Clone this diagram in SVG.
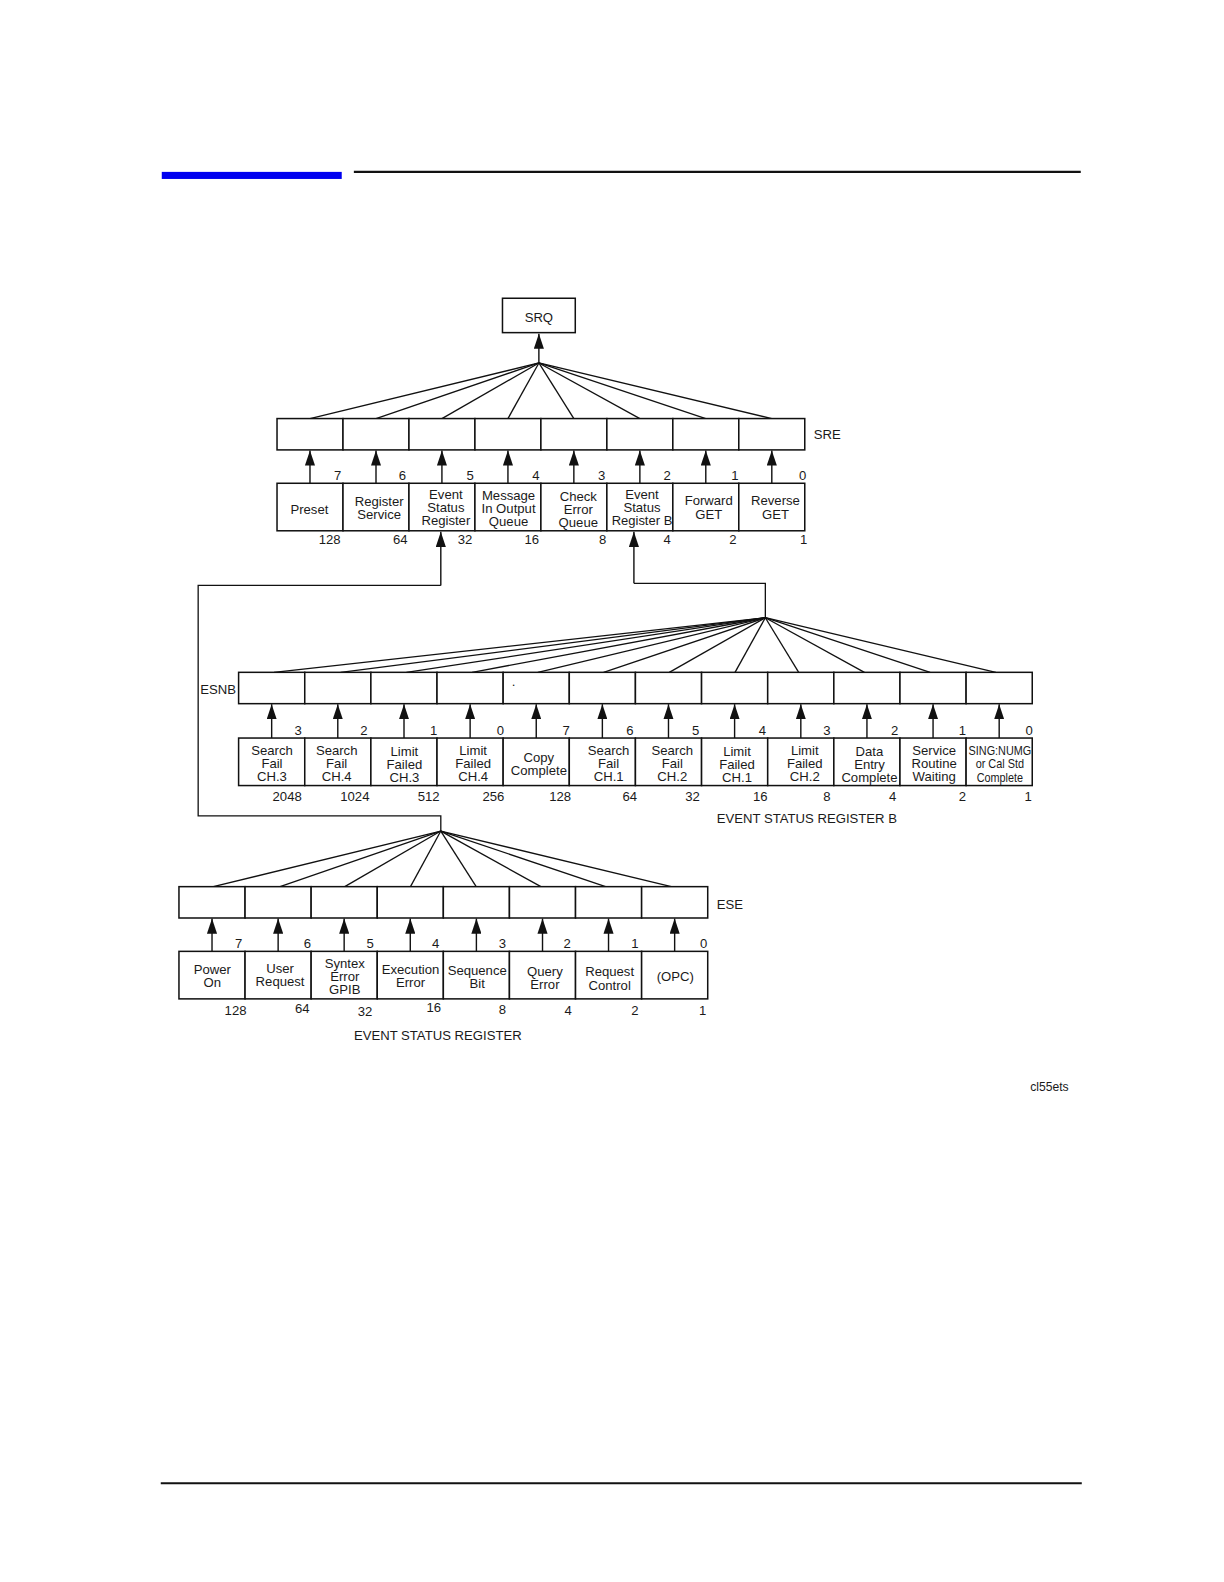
<svg xmlns="http://www.w3.org/2000/svg" width="1224" height="1582" viewBox="0 0 1224 1582">
<style>
.bx{fill:#fff;stroke:#111;stroke-width:1.5}
.ln{fill:none;stroke:#111;stroke-width:1.3}
.ar{fill:none;stroke:#111;stroke-width:1.4}
.t{font-family:"Liberation Sans",Arial,sans-serif;font-size:13px;text-anchor:middle;fill:#1a1a1a}
.s{font-size:12px}
.lb{font-family:"Liberation Sans",Arial,sans-serif;font-size:13px;fill:#1a1a1a}
</style>
<defs>
<marker id="ah" markerUnits="userSpaceOnUse" markerWidth="15" markerHeight="10" refX="15" refY="5" orient="auto">
<path d="M0,0 L15,5 L0,10 Z" fill="#111"/>
</marker>
</defs>
<rect width="1224" height="1582" fill="#fff"/>
<g transform="matrix(1.011,0,0,1.011,-1,-1)">
<g id="header">
<rect x="161" y="171" width="178" height="7" fill="#0000f0"/>
<line x1="351" y1="171" x2="1070" y2="171" stroke="#111" stroke-width="2"/>
<line x1="160" y1="1468" x2="1071" y2="1468" stroke="#111" stroke-width="2"/>
</g>

<g id="connectors">
<g class="ln">
<line x1="534" y1="360" x2="307.6" y2="415"/>
<line x1="534" y1="360" x2="372.9" y2="415"/>
<line x1="534" y1="360" x2="438.1" y2="415"/>
<line x1="534" y1="360" x2="503.4" y2="415"/>
<line x1="534" y1="360" x2="568.6" y2="415"/>
<line x1="534" y1="360" x2="633.9" y2="415"/>
<line x1="534" y1="360" x2="699.1" y2="415"/>
<line x1="534" y1="360" x2="764.4" y2="415"/>
</g>
<line class="ar" x1="534" y1="360" x2="534" y2="331" marker-end="url(#ah)"/>
<g class="ar" marker-end="url(#ah)">
<line x1="307.6" y1="479" x2="307.6" y2="446.5"/>
<line x1="372.9" y1="479" x2="372.9" y2="446.5"/>
<line x1="438.1" y1="479" x2="438.1" y2="446.5"/>
<line x1="503.4" y1="479" x2="503.4" y2="446.5"/>
<line x1="568.6" y1="479" x2="568.6" y2="446.5"/>
<line x1="633.9" y1="479" x2="633.9" y2="446.5"/>
<line x1="699.1" y1="479" x2="699.1" y2="446.5"/>
<line x1="764.4" y1="479" x2="764.4" y2="446.5"/>
</g>
<polyline class="ln" points="437,823 437,808 197,808 197,580 437,580"/>
<line class="ar" x1="437" y1="580" x2="437" y2="527" marker-end="url(#ah)"/>
<polyline class="ln" points="758,612 758,578 628,578"/>
<line class="ar" x1="628" y1="578" x2="628" y2="527" marker-end="url(#ah)"/>
<g class="ln">
<line x1="758" y1="612" x2="272" y2="666"/>
<line x1="758" y1="612" x2="338" y2="666"/>
<line x1="758" y1="612" x2="403" y2="666"/>
<line x1="758" y1="612" x2="468" y2="666"/>
<line x1="758" y1="612" x2="533" y2="666"/>
<line x1="758" y1="612" x2="598" y2="666"/>
<line x1="758" y1="612" x2="663" y2="666"/>
<line x1="758" y1="612" x2="728" y2="666"/>
<line x1="758" y1="612" x2="791" y2="666"/>
<line x1="758" y1="612" x2="856" y2="666"/>
<line x1="758" y1="612" x2="921" y2="666"/>
<line x1="758" y1="612" x2="986" y2="666"/>
</g>
<g class="ar" marker-end="url(#ah)">
<line x1="269.7" y1="731" x2="269.7" y2="697.5"/>
<line x1="335.1" y1="731" x2="335.1" y2="697.5"/>
<line x1="400.6" y1="731" x2="400.6" y2="697.5"/>
<line x1="466" y1="731" x2="466" y2="697.5"/>
<line x1="531.4" y1="731" x2="531.4" y2="697.5"/>
<line x1="596.8" y1="731" x2="596.8" y2="697.5"/>
<line x1="662.2" y1="731" x2="662.2" y2="697.5"/>
<line x1="727.6" y1="731" x2="727.6" y2="697.5"/>
<line x1="793.1" y1="731" x2="793.1" y2="697.5"/>
<line x1="858.5" y1="731" x2="858.5" y2="697.5"/>
<line x1="923.9" y1="731" x2="923.9" y2="697.5"/>
<line x1="989.3" y1="731" x2="989.3" y2="697.5"/>
</g>
<g class="ln">
<line x1="437" y1="823" x2="212" y2="878"/>
<line x1="437" y1="823" x2="278" y2="878"/>
<line x1="437" y1="823" x2="342" y2="878"/>
<line x1="437" y1="823" x2="407" y2="878"/>
<line x1="437" y1="823" x2="472" y2="878"/>
<line x1="437" y1="823" x2="536" y2="878"/>
<line x1="437" y1="823" x2="600" y2="878"/>
<line x1="437" y1="823" x2="665" y2="878"/>
</g>
<g class="ar" marker-end="url(#ah)">
<line x1="210.7" y1="942" x2="210.7" y2="909.5"/>
<line x1="276.1" y1="942" x2="276.1" y2="909.5"/>
<line x1="341.4" y1="942" x2="341.4" y2="909.5"/>
<line x1="406.8" y1="942" x2="406.8" y2="909.5"/>
<line x1="472.2" y1="942" x2="472.2" y2="909.5"/>
<line x1="537.6" y1="942" x2="537.6" y2="909.5"/>
<line x1="602.9" y1="942" x2="602.9" y2="909.5"/>
<line x1="668.3" y1="942" x2="668.3" y2="909.5"/>
</g>
</g>

<g id="srq">
<rect class="bx" x="498" y="296" width="72" height="34"/>
<text class="t" x="534" y="319.5">SRQ</text>
</g>

<g id="sre">
<rect class="bx" x="275" y="415" width="65.25" height="31"/>
<rect class="bx" x="340.25" y="415" width="65.25" height="31"/>
<rect class="bx" x="405.5" y="415" width="65.25" height="31"/>
<rect class="bx" x="470.75" y="415" width="65.25" height="31"/>
<rect class="bx" x="536" y="415" width="65.25" height="31"/>
<rect class="bx" x="601.25" y="415" width="65.25" height="31"/>
<rect class="bx" x="666.5" y="415" width="65.25" height="31"/>
<rect class="bx" x="731.75" y="415" width="65.25" height="31"/>
<text class="lb" x="806" y="435">SRE</text>
</g>

<g id="sre-bits" class="t">
<text x="335" y="476">7</text><text x="399" y="476">6</text><text x="466" y="476">5</text><text x="531" y="476">4</text>
<text x="596" y="476">3</text><text x="661" y="476">2</text><text x="728" y="476">1</text><text x="795" y="476">0</text>
</g>

<g id="status-byte">
<g id="sb-preset"><rect class="bx" x="275" y="479" width="65.25" height="47"/><text class="t" x="307" y="509.5">Preset</text></g>
<g id="sb-regsvc"><rect class="bx" x="340.25" y="479" width="65.25" height="47"/><text class="t" x="376" y="501.5">Register</text><text class="t" x="376" y="514.5">Service</text></g>
<g id="sb-esr"><rect class="bx" x="405.5" y="479" width="65.25" height="47"/><text class="t" x="442" y="494.5">Event</text><text class="t" x="442" y="507.5">Status</text><text class="t" x="442" y="520.5">Register</text></g>
<g id="sb-mav"><rect class="bx" x="470.75" y="479" width="65.25" height="47"/><text class="t" x="504" y="495.5">Message</text><text class="t" x="504" y="508.5">In Output</text><text class="t" x="504" y="521.5">Queue</text></g>
<g id="sb-err"><rect class="bx" x="536" y="479" width="65.25" height="47"/><text class="t" x="573" y="496.5">Check</text><text class="t" x="573" y="509.5">Error</text><text class="t" x="573" y="522.5">Queue</text></g>
<g id="sb-esrb"><rect class="bx" x="601.25" y="479" width="65.25" height="47"/><text class="t" x="636" y="494.5">Event</text><text class="t" x="636" y="507.5">Status</text><text class="t" x="636" y="520" textLength="60" lengthAdjust="spacingAndGlyphs">Register B</text></g>
<g id="sb-fwd"><rect class="bx" x="666.5" y="479" width="65.25" height="47"/><text class="t" x="702" y="500.5">Forward</text><text class="t" x="702" y="514.5">GET</text></g>
<g id="sb-rev"><rect class="bx" x="731.75" y="479" width="65.25" height="47"/><text class="t" x="768" y="500.5">Reverse</text><text class="t" x="768" y="514.5">GET</text></g>
</g>

<g id="sre-weights" class="t">
<text x="327" y="539">128</text><text x="397" y="539">64</text><text x="461" y="539">32</text><text x="527" y="539">16</text>
<text x="597" y="539">8</text><text x="661" y="539">4</text><text x="726" y="539">2</text><text x="796" y="539">1</text>
</g>

<g id="esnb">
<rect class="bx" x="237" y="666" width="65.42" height="31"/>
<rect class="bx" x="302.42" y="666" width="65.42" height="31"/>
<rect class="bx" x="367.83" y="666" width="65.42" height="31"/>
<rect class="bx" x="433.25" y="666" width="65.42" height="31"/>
<rect class="bx" x="498.67" y="666" width="65.42" height="31"/>
<rect class="bx" x="564.08" y="666" width="65.42" height="31"/>
<rect class="bx" x="629.5" y="666" width="65.42" height="31"/>
<rect class="bx" x="694.92" y="666" width="65.42" height="31"/>
<rect class="bx" x="760.33" y="666" width="65.42" height="31"/>
<rect class="bx" x="825.75" y="666" width="65.42" height="31"/>
<rect class="bx" x="891.17" y="666" width="65.42" height="31"/>
<rect class="bx" x="956.58" y="666" width="65.42" height="31"/>
<text class="lb" x="199" y="687">ESNB</text>
<text class="t" x="509" y="680">.</text>
</g>

<g id="esnb-bits" class="t">
<text x="296" y="728">3</text><text x="361" y="728">2</text><text x="430" y="728">1</text><text x="496" y="728">0</text>
<text x="561" y="728">7</text><text x="624" y="728">6</text><text x="689" y="728">5</text><text x="755" y="728">4</text>
<text x="819" y="728">3</text><text x="886" y="728">2</text><text x="953" y="728">1</text><text x="1019" y="728">0</text>
</g>

<g id="esrb">
<g id="b-sf3"><rect class="bx" x="237" y="731" width="65.42" height="47"/><text class="t" x="270" y="747.5">Search</text><text class="t" x="270" y="760.5">Fail</text><text class="t" x="270" y="773.5">CH.3</text></g>
<g id="b-sf4"><rect class="bx" x="302.42" y="731" width="65.42" height="47"/><text class="t" x="334" y="747.5">Search</text><text class="t" x="334" y="760.5">Fail</text><text class="t" x="334" y="773.5">CH.4</text></g>
<g id="b-lf3"><rect class="bx" x="367.83" y="731" width="65.42" height="47"/><text class="t" x="401" y="748.5">Limit</text><text class="t" x="401" y="761.5">Failed</text><text class="t" x="401" y="774.5">CH.3</text></g>
<g id="b-lf4"><rect class="bx" x="433.25" y="731" width="65.42" height="47"/><text class="t" x="469" y="747.5">Limit</text><text class="t" x="469" y="760.5">Failed</text><text class="t" x="469" y="773.5">CH.4</text></g>
<g id="b-copy"><rect class="bx" x="498.67" y="731" width="65.42" height="47"/><text class="t" x="534" y="754.5">Copy</text><text class="t" x="534" y="767.5">Complete</text></g>
<g id="b-sf1"><rect class="bx" x="564.08" y="731" width="65.42" height="47"/><text class="t" x="603" y="747.5">Search</text><text class="t" x="603" y="760.5">Fail</text><text class="t" x="603" y="773.5">CH.1</text></g>
<g id="b-sf2"><rect class="bx" x="629.5" y="731" width="65.42" height="47"/><text class="t" x="666" y="747.5">Search</text><text class="t" x="666" y="760.5">Fail</text><text class="t" x="666" y="773.5">CH.2</text></g>
<g id="b-lf1"><rect class="bx" x="694.92" y="731" width="65.42" height="47"/><text class="t" x="730" y="748.5">Limit</text><text class="t" x="730" y="761.5">Failed</text><text class="t" x="730" y="774.5">CH.1</text></g>
<g id="b-lf2"><rect class="bx" x="760.33" y="731" width="65.42" height="47"/><text class="t" x="797" y="747.5">Limit</text><text class="t" x="797" y="760.5">Failed</text><text class="t" x="797" y="773.5">CH.2</text></g>
<g id="b-data"><rect class="bx" x="825.75" y="731" width="65.42" height="47"/><text class="t" x="861" y="748.5">Data</text><text class="t" x="861" y="761.5">Entry</text><text class="t" x="861" y="774.5">Complete</text></g>
<g id="b-svc"><rect class="bx" x="891.17" y="731" width="65.42" height="47"/><text class="t" x="925" y="747.5">Service</text><text class="t" x="925" y="760.5">Routine</text><text class="t" x="925" y="773.5">Waiting</text></g>
<g id="b-sing"><rect class="bx" x="956.58" y="731" width="65.42" height="47"/><text class="t" x="990" y="748" textLength="62" lengthAdjust="spacingAndGlyphs">SING:NUMG</text><text class="t s" x="990" y="761" textLength="48" lengthAdjust="spacingAndGlyphs">or Cal Std</text><text class="t s" x="990" y="774" textLength="46" lengthAdjust="spacingAndGlyphs">Complete</text></g>
</g>

<g id="esrb-weights" class="t">
<text x="285" y="793">2048</text><text x="352" y="793">1024</text><text x="425" y="793">512</text><text x="489" y="793">256</text>
<text x="555" y="793">128</text><text x="624" y="793">64</text><text x="686" y="793">32</text><text x="753" y="793">16</text>
<text x="819" y="793">8</text><text x="884" y="793">4</text><text x="953" y="793">2</text><text x="1018" y="793">1</text>
</g>
<text class="lb" x="710" y="815">EVENT STATUS REGISTER B</text>

<g id="ese">
<rect class="bx" x="178" y="878" width="65.38" height="31"/>
<rect class="bx" x="243.38" y="878" width="65.38" height="31"/>
<rect class="bx" x="308.75" y="878" width="65.38" height="31"/>
<rect class="bx" x="374.13" y="878" width="65.38" height="31"/>
<rect class="bx" x="439.5" y="878" width="65.38" height="31"/>
<rect class="bx" x="504.88" y="878" width="65.38" height="31"/>
<rect class="bx" x="570.25" y="878" width="65.38" height="31"/>
<rect class="bx" x="635.63" y="878" width="65.38" height="31"/>
<text class="lb" x="710" y="900">ESE</text>
</g>

<g id="ese-bits" class="t">
<text x="237" y="939">7</text><text x="305" y="939">6</text><text x="367" y="939">5</text><text x="432" y="939">4</text>
<text x="498" y="939">3</text><text x="562" y="939">2</text><text x="629" y="939">1</text><text x="697" y="939">0</text>
</g>

<g id="esr">
<g id="e-pon"><rect class="bx" x="178" y="942" width="65.38" height="47"/><text class="t" x="211" y="964.5">Power</text><text class="t" x="211" y="977.5">On</text></g>
<g id="e-urq"><rect class="bx" x="243.38" y="942" width="65.38" height="47"/><text class="t" x="278" y="963.5">User</text><text class="t" x="278" y="976.5">Request</text></g>
<g id="e-syn"><rect class="bx" x="308.75" y="942" width="65.38" height="47"/><text class="t" x="342" y="958.5">Syntex</text><text class="t" x="342" y="971.5">Error</text><text class="t" x="342" y="984.5">GPIB</text></g>
<g id="e-exe"><rect class="bx" x="374.13" y="942" width="65.38" height="47"/><text class="t" x="407" y="964.5">Execution</text><text class="t" x="407" y="977.5">Error</text></g>
<g id="e-seq"><rect class="bx" x="439.5" y="942" width="65.38" height="47"/><text class="t" x="473" y="965.5">Sequence</text><text class="t" x="473" y="978.5">Bit</text></g>
<g id="e-qry"><rect class="bx" x="504.88" y="942" width="65.38" height="47"/><text class="t" x="540" y="966.5">Query</text><text class="t" x="540" y="979.5">Error</text></g>
<g id="e-rqc"><rect class="bx" x="570.25" y="942" width="65.38" height="47"/><text class="t" x="604" y="966.5">Request</text><text class="t" x="604" y="980.5">Control</text></g>
<g id="e-opc"><rect class="bx" x="635.63" y="942" width="65.38" height="47"/><text class="t" x="669" y="971.5">(OPC)</text></g>
</g>

<g id="esr-weights" class="t">
<text x="234" y="1005">128</text><text x="300" y="1003">64</text><text x="362" y="1006">32</text><text x="430" y="1002">16</text>
<text x="498" y="1004">8</text><text x="563" y="1005">4</text><text x="629" y="1005">2</text><text x="696" y="1005">1</text>
</g>
<text class="t" x="434" y="1030">EVENT STATUS REGISTER</text>
<text class="t s" x="1039" y="1080">cl55ets</text>
</g>
</svg>
